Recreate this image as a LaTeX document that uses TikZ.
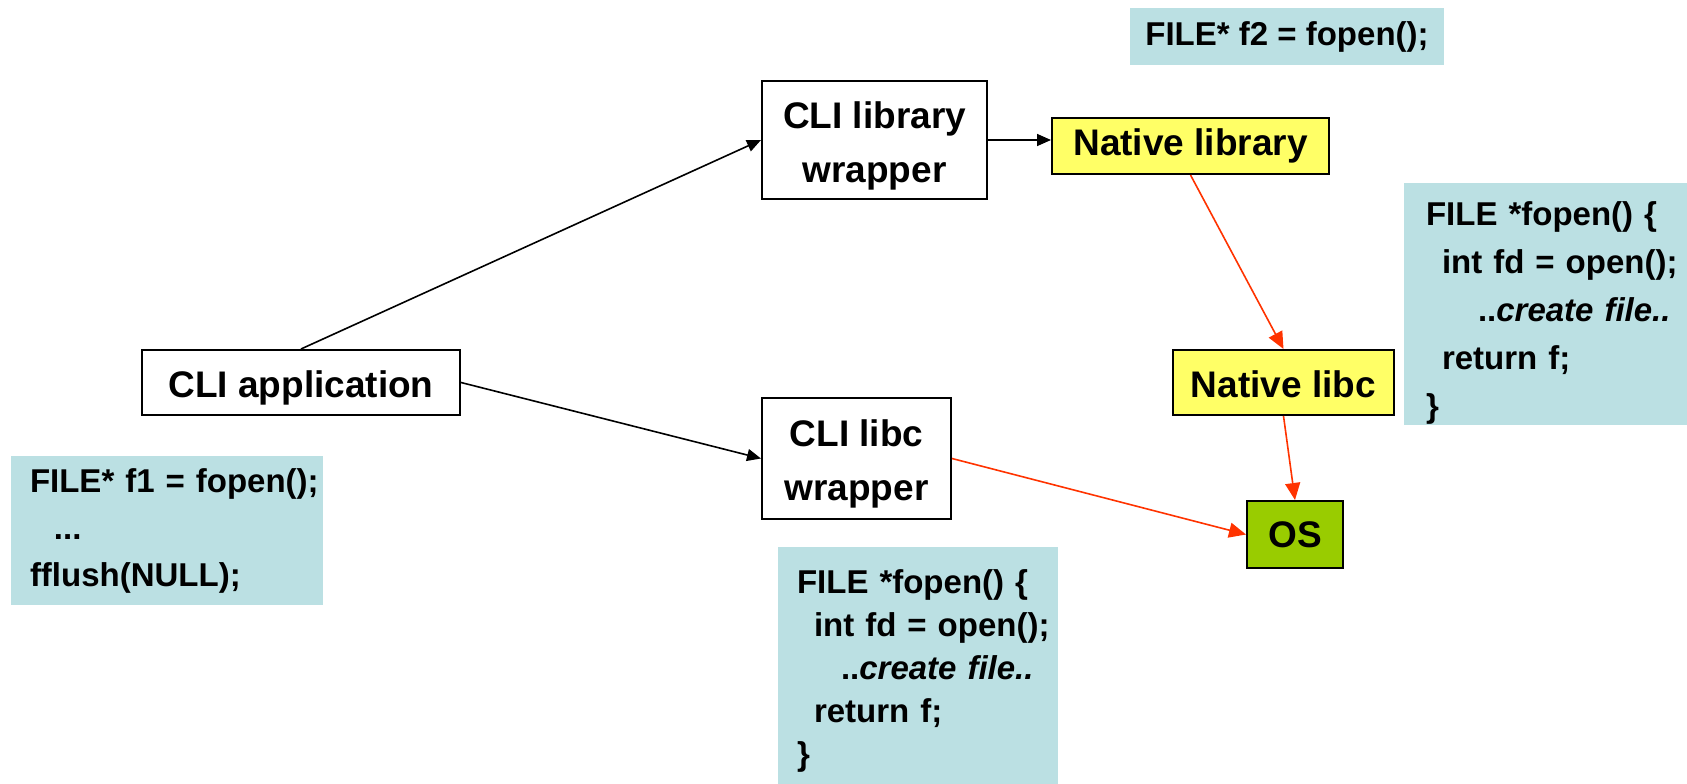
\documentclass[tikz,border=0pt]{standalone}
\usepackage{fontspec}
\setmainfont{Liberation Sans}
\usetikzlibrary{positioning,arrows.meta}
\definecolor{CodeBg}{HTML}{BBE0E3}
\definecolor{NativeFill}{HTML}{FFFF66}
\definecolor{OsFill}{HTML}{99CC00}
\definecolor{NativeLine}{HTML}{FF3300}
\newcommand{\codefont}{\fontsize{33}{43}\selectfont\bfseries}
\newcommand{\boxfont}{\fontsize{37}{54}\selectfont\bfseries}
\newcommand{\topgap}[1]{\rule{0pt}{#1}}

\begin{document}
\begin{tikzpicture}[
			x=1pt, y=-1pt,
			layer/.style={draw, line width=2pt, align=center, font=\boxfont, inner sep=0pt},
			native/.style={layer, fill=NativeFill},
			code/.style={fill=CodeBg, inner ysep=0pt, align=left, font=\codefont},
			call/.style={line width=1.6pt, -{Triangle[length=14pt,width=12pt]}},
			syscall/.style={line width=1.6pt, color=NativeLine, -{Triangle[length=17pt,width=15pt]}}
			]
			\useasboundingbox (0,0) rectangle (1687,784);
			
			% CLI side
			\node[layer, minimum width=318pt, minimum height=65pt] (app) at (301,382.5) {\topgap{38pt}CLI application};
			\node[layer, minimum width=225pt, minimum height=118pt] (libwrap) at (874.5,140) {\topgap{38pt}CLI library\\wrapper};
			\node[layer, minimum width=189pt, minimum height=121pt] (libcwrap) at (856.5,458.5) {\topgap{38pt}CLI libc\\wrapper};
			
			% Native side
			\node[native, minimum width=277pt, minimum height=56pt, right=63pt of libwrap, yshift=-6pt] (natlib) {Native library};
			\node[native, minimum width=221pt, minimum height=65pt] (natlibc) at (1283.5,382.5) {\topgap{31pt}Native libc};
			\node[layer, fill=OsFill, minimum width=96pt, minimum height=67pt] (os) at (1295,534.5) {OS};
			
			% Code snippets
			\node[code, minimum height=149pt, inner xsep=19pt, text width=274pt] (appsrc) at (167,530.5)
			{\begin{tabular}{@{}l@{}}FILE* f1 = fopen();\\[4pt]\hspace*{24pt}...\\[4pt]fflush(NULL);\end{tabular}};
			\node[code, align=center, minimum width=314pt, minimum height=57pt] (libsrc) at (1287,36.5) {FILE* f2 = fopen();};
			\node[code, minimum height=242pt, inner xsep=22pt, text width=239pt] (nativesrc) at (1545.5,304)
			{\raisebox{-9pt}[\height][\depth]{\begin{tabular}{@{}l@{}}FILE *fopen() \{\\[5pt]\hspace*{16pt}int fd = open();\\[5pt]\hspace*{52pt}..\textit{create file..}\\[5pt]\hspace*{16pt}return f;\\[5pt]\}\end{tabular}}};
			\node[code, minimum height=237pt, inner xsep=19pt, text width=242pt] (clisrc) at (918,665.5)
			{\begin{tabular}{@{}l@{}}\topgap{41pt}FILE *fopen() \{\\\hspace*{17pt}int fd = open();\\\hspace*{44pt}..\textit{create file..}\\\hspace*{17pt}return f;\\\}\end{tabular}};
			
			% Calls
			\draw[call] (app.north) -- (libwrap.west);
			\draw[call] (app.east) -- (libcwrap.west);
			\draw[call] (libwrap.east) -- (libwrap.east -| natlib.west);
			\draw[syscall] (natlib.south) -- (natlibc.north);
			\draw[syscall] (natlibc.south) -- (os.north);
			\draw[syscall] (libcwrap.east) -- (os.west);
			
		\end{tikzpicture}
\end{document}
